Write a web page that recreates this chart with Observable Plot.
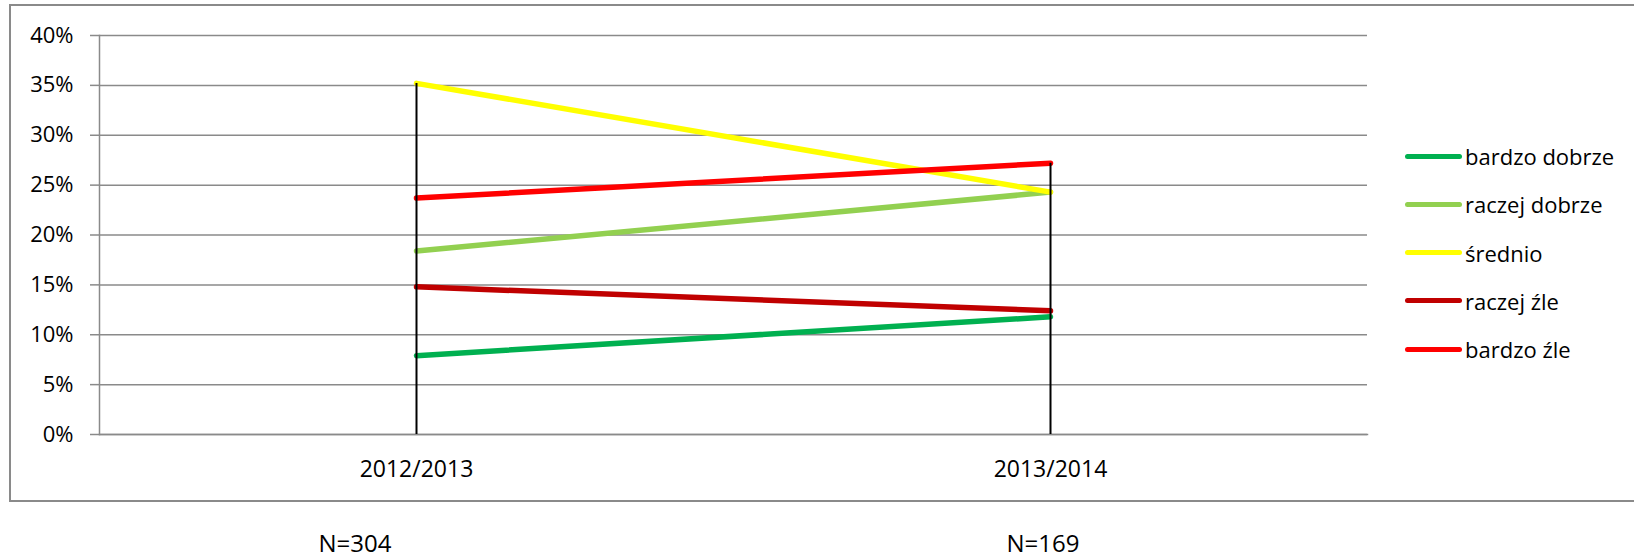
<!DOCTYPE html>
<html>
<head>
<meta charset="utf-8">
<script src="https://cdn.jsdelivr.net/npm/d3@7"></script>
<script src="https://cdn.jsdelivr.net/npm/@observablehq/plot@0.6"></script>
<style>
  body { margin: 0; background: #fff; font-family: "Open Sans", sans-serif; color: #000; }
  #wrap { position: relative; width: 1634px; height: 558px; overflow: hidden; background: #fff; }
  #chart { position: absolute; left: 0; top: 0; }
  #frame { position: absolute; left: 9px; top: 4px; width: 1700px; height: 494px; border: 2px solid #8a8a8a; pointer-events: none; }
  .leg-item { position: absolute; left: 1405px; height: 30px; display: flex; align-items: center; font-size: 22px; white-space: nowrap; }
  .leg-line { display: inline-block; width: 57px; height: 5px; border-radius: 3px; margin-right: 3px; }
  .nlab { position: absolute; top: 531px; font-size: 24px; line-height: 24px; transform: translateX(-50%); white-space: nowrap; }
</style>
</head>
<body>
<div id="wrap">
  <div id="chart"></div>
  <div id="frame"></div>
</div>
<script>
// ---- data ----
const categories = ["2012/2013", "2013/2014"];
const seriesNames = ["bardzo dobrze", "raczej dobrze", "średnio", "raczej źle", "bardzo źle"];
const seriesColors = ["#00B050", "#92D050", "#FFFF00", "#C00000", "#FF0000"];
const bardzoDobrze = [0.079, 0.118];
const raczejDobrze = [0.184, 0.243];
const srednio      = [0.352, 0.243];
const raczejZle    = [0.148, 0.124];
const bardzoZle    = [0.237, 0.272];
const yTicks = [0, 0.05, 0.10, 0.15, 0.20, 0.25, 0.30, 0.35, 0.40];
const nLabels = ["N=304", "N=169"];

// ---- build table ----
const seriesValues = [bardzoDobrze, raczejDobrze, srednio, raczejZle, bardzoZle];
const rows = [];
seriesNames.forEach((s, i) => categories.forEach((c, j) => rows.push({series: s, cat: c, value: seriesValues[i][j]})));
const drops = categories.map((c, j) => ({cat: c, top: d3.max(seriesValues, v => v[j])}));

const W = 1634, H = 505;
const chart = Plot.plot({
  width: W,
  height: H,
  marginLeft: 99,
  marginRight: 267,
  marginTop: 35,
  marginBottom: 71,
  style: {fontFamily: "Open Sans", fontSize: "22px", color: "#000", background: "transparent", overflow: "visible"},
  x: {type: "point", domain: categories, padding: 0.5},
  y: {domain: [0, 0.4]},
  color: {domain: seriesNames, range: seriesColors},
  marks: [
    Plot.gridY(yTicks, {stroke: "#8a8a8a", strokeOpacity: 1, strokeWidth: 1.5}),
    Plot.axisY(yTicks, {tickFormat: d3.format(".0%"), tickSize: 9, tickPadding: 17, stroke: "#8a8a8a", strokeWidth: 1.5, fontSize: 22, label: null}),
    Plot.frame({anchor: "left", stroke: "#8a8a8a", strokeWidth: 1.5}),
    Plot.frame({anchor: "bottom", stroke: "#8a8a8a", strokeWidth: 1.5}),
    Plot.axisX({tickSize: 0, tickPadding: 26, fontSize: 23, label: null}),
    Plot.line(rows, {x: "cat", y: "value", z: "series", stroke: "series", strokeWidth: 5.5, strokeLinecap: "round", strokeLinejoin: "round"}),
    Plot.ruleX(drops, {x: "cat", y1: 0, y2: "top", stroke: "#000", strokeWidth: 2})
  ]
});
document.getElementById("chart").appendChild(chart);

// ---- legend (HTML) ----
const wrap = d3.select("#wrap");
const legTop = 141, legStep = 48.3;
seriesNames.forEach((s, i) => {
  const item = wrap.append("div").attr("class", "leg-item").style("top", (legTop + i * legStep) + "px");
  item.append("span").attr("class", "leg-line").style("background", seriesColors[i]);
  item.append("span").text(s);
});

// ---- N labels below the chart ----
const nCenters = [355, 1043];
nLabels.forEach((t, i) => {
  wrap.append("div").attr("class", "nlab").style("left", nCenters[i] + "px").text(t);
});
</script>
</body>
</html>
